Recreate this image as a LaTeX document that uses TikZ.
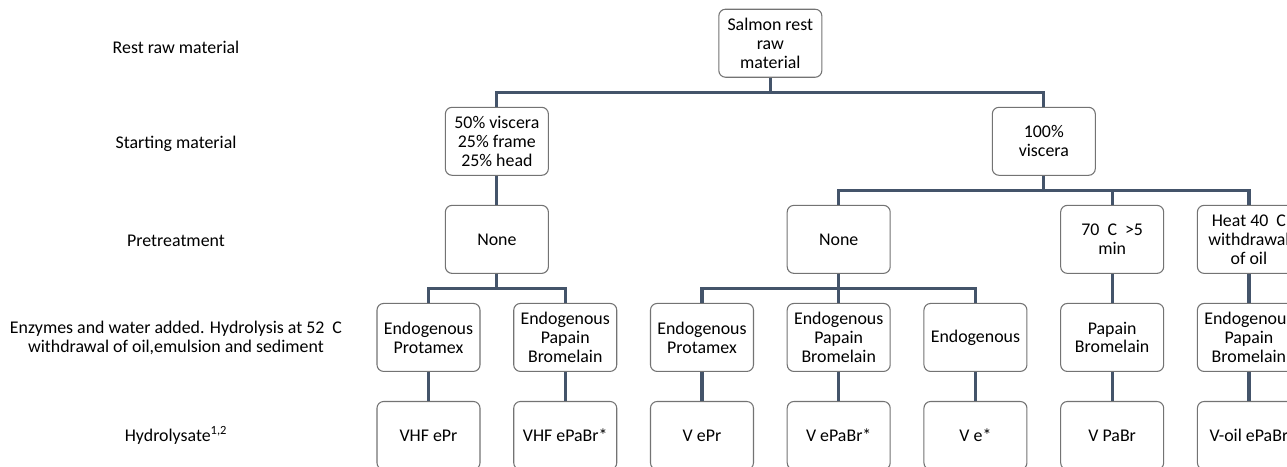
\documentclass[tikz,border=0pt]{standalone}
\usepackage{fontspec}
\setmainfont{Carlito}
\usetikzlibrary{positioning,calc}
\definecolor{slate}{HTML}{44546A}
\tikzset{
  tree/.style={x=0.75pt,y=-0.75pt,
    node distance=21.75pt and 24.5pt,
    font=\fontsize{13.4}{14.2}\selectfont},
  stage/.style={rectangle,rounded corners=5pt,draw=black!55,line width=0.8pt,
    minimum width=77.25pt,minimum height=51pt,inner sep=2pt,
    align=center,fill=white},
  rowlabel/.style={rectangle,inner sep=0pt,align=center},
  link/.style={draw=slate,line width=2.4pt}
}

\begin{document}
\begin{tikzpicture}[tree]
  \clip (0,0) rectangle (1287,467);
  % row labels on the left
  \node[rowlabel] (rest) at (176,47) {Rest raw material};
  \node[rowlabel] (start) at (176,144) {Starting material};
  \node[rowlabel] (pretreat) at (176,241) {Pretreatment};
  \node[rowlabel] (enzymes) at (176,338) {Enzymes and water added. Hydrolysis at 52~ C\\withdrawal of oil,emulsion and sediment};
  \node[rowlabel] (hydro) at (176,435) {Hydrolysate\textsuperscript{1,2}};
  % hydrolysates
  \node[stage] (h1) at (428.5,435.5) {VHF ePr};
  \node[stage] (h2) [right=of h1] {VHF ePaBr*};
  \node[stage] (h3) [right=of h2] {V ePr};
  \node[stage] (h4) [right=of h3] {V ePaBr*};
  \node[stage] (h5) [right=of h4] {V e*};
  \node[stage] (h6) [right=of h5] {V PaBr};
  \node[stage] (h7) [right=of h6] {V-oil ePaBr};
  % enzymes
  \node[stage] (e1) [above=of h1] {Endogenous\\Protamex};
  \node[stage] (e2) [above=of h2] {Endogenous\\Papain\\Bromelain};
  \node[stage] (e3) [above=of h3] {Endogenous\\Protamex};
  \node[stage] (e4) [above=of h4] {Endogenous\\Papain\\Bromelain};
  \node[stage] (e5) [above=of h5] {Endogenous};
  \node[stage] (e6) [above=of h6] {Papain\\Bromelain};
  \node[stage] (e7) [above=of h7] {Endogenous\\Papain\\Bromelain};
  % pretreatment
  \coordinate (m12) at ($(e1.north)!0.5!(e2.north)$);
  \node[stage] (p1) [above=of m12] {None};
  \node[stage] (p2) [above=of e4] {None};
  \node[stage] (p3) [above=of e6] {70~ C~ >5\\min};
  \node[stage] (p4) [above=of e7] {Heat 40~ C\\withdrawal\\of oil};
  % starting material
  \node[stage] (s1) [above=of p1] {50\% viscera\\25\% frame\\25\% head};
  \coordinate (m24) at ($(p2.north)!0.5!(p4.north)$);
  \node[stage] (s2) [above=of m24] {100\%\\viscera};
  \coordinate (m0) at ($(s1.north)!0.5!(s2.north)$);
  \node[stage] (salmon) [above=of m0] {Salmon rest\\raw\\material};
  % connectors
  \draw[link] (salmon) |- ($(salmon.south)!0.5!(s1.north)$) -| (s1);
  \draw[link] (salmon) |- ($(salmon.south)!0.5!(s2.north)$) -| (s2);
  \draw[link] (s1) -- (p1);
  \draw[link] (s2) |- ($(s2.south)!0.5!(p2.north)$) -| (p2);
  \draw[link] (s2) |- ($(s2.south)!0.5!(p3.north)$) -| (p3);
  \draw[link] (s2) |- ($(s2.south)!0.5!(p4.north)$) -| (p4);
  \draw[link] (p1) |- ($(p1.south)!0.5!(e1.north)$) -| (e1);
  \draw[link] (p1) |- ($(p1.south)!0.5!(e2.north)$) -| (e2);
  \draw[link] (p2) |- ($(p2.south)!0.5!(e3.north)$) -| (e3);
  \draw[link] (p2) -- (e4);
  \draw[link] (p2) |- ($(p2.south)!0.5!(e5.north)$) -| (e5);
  \draw[link] (p3) -- (e6);
  \draw[link] (p4) -- (e7);
  \draw[link] (e1) -- (h1);
  \draw[link] (e2) -- (h2);
  \draw[link] (e3) -- (h3);
  \draw[link] (e4) -- (h4);
  \draw[link] (e5) -- (h5);
  \draw[link] (e6) -- (h6);
  \draw[link] (e7) -- (h7);
\end{tikzpicture}
\end{document}
